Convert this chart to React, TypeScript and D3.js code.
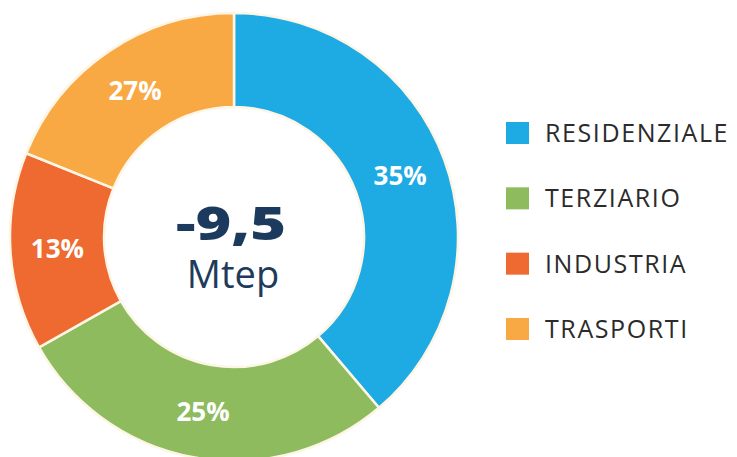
import React, { useRef, useEffect } from 'react';
import * as d3 from 'd3';

// sectors, clockwise from 12 o'clock
const categories = ['RESIDENZIALE', 'TERZIARIO', 'INDUSTRIA', 'TRASPORTI'];
// angular share of each sector as drawn (percent of the ring)
const shares = [38.8, 28.0, 14.3, 18.9];
// percentages printed on the sectors
const labels = ['35%', '25%', '13%', '27%'];
const colors = ['#1eaae3', '#8dbb5e', '#ee6a30', '#f8a943'];
const centerValue = '-9,5';
const centerUnit = 'Mtep';

const width = 737;
const height = 457;
const cx = 234;
const cy = 237;
const outerR = 224;
const innerR = 130;

export default function App() {
  const ref = useRef<SVGSVGElement>(null);

  useEffect(() => {
    const svg = d3.select(ref.current);
    svg.selectAll('*').remove();

    const pie = d3
      .pie<number>()
      .sort(null)
      .value(d => d);
    const arcs = pie(shares);
    const arc = d3
      .arc<d3.PieArcDatum<number>>()
      .innerRadius(innerR)
      .outerRadius(outerR);

    const g = svg.append('g').attr('transform', `translate(${cx},${cy})`);

    g.selectAll('path.slice')
      .data(arcs)
      .enter()
      .append('path')
      .attr('class', 'slice')
      .attr('d', arc)
      .attr('fill', (d, i) => colors[i])
      .attr('stroke', '#fdf6e6')
      .attr('stroke-width', 2.5);

    // percent labels at the centroid of each sector
    g.selectAll('text.pct')
      .data(arcs)
      .enter()
      .append('text')
      .attr('class', 'pct')
      .attr('x', d => arc.centroid(d)[0])
      .attr('y', d => arc.centroid(d)[1])
      .attr('dy', '0.36em')
      .attr('text-anchor', 'middle')
      .attr('font-family', '"Open Sans", sans-serif')
      .attr('font-weight', 700)
      .attr('font-size', 26)
      .attr('fill', '#ffffff')
      .text((d, i) => labels[i]);

    // center text
    g.append('text')
      .attr('x', -3)
      .attr('y', 3)
      .attr('text-anchor', 'middle')
      .attr('font-family', '"Open Sans", sans-serif')
      .attr('font-weight', 800)
      .attr('font-size', 46)
      .attr('textLength', 110)
      .attr('lengthAdjust', 'spacingAndGlyphs')
      .attr('fill', '#1b3a5e')
      .text(centerValue);
    g.append('text')
      .attr('x', -1)
      .attr('y', 51)
      .attr('text-anchor', 'middle')
      .attr('font-family', '"Open Sans", sans-serif')
      .attr('font-weight', 400)
      .attr('font-size', 38)
      .attr('fill', '#1f3b5c')
      .text(centerUnit);

    // legend
    const y = d3
      .scalePoint<string>()
      .domain(categories)
      .range([133, 329]);
    const legend = svg
      .append('g')
      .selectAll('g')
      .data(categories)
      .enter()
      .append('g')
      .attr('transform', d => `translate(506,${y(d)})`);
    legend
      .append('rect')
      .attr('x', 0)
      .attr('y', -11)
      .attr('width', 23)
      .attr('height', 22)
      .attr('fill', (d, i) => colors[i]);
    legend
      .append('text')
      .attr('x', 39)
      .attr('y', 0)
      .attr('dy', '0.36em')
      .attr('font-family', '"Open Sans", sans-serif')
      .attr('font-size', 25)
      .attr('letter-spacing', 1.6)
      .attr('fill', '#2b2b2b')
      .text(d => d);
  }, []);

  return (
    <svg
      ref={ref}
      width={width}
      height={height}
      style={{ position: 'absolute', left: 0, top: 0, background: '#ffffff' }}
    />
  );
}
